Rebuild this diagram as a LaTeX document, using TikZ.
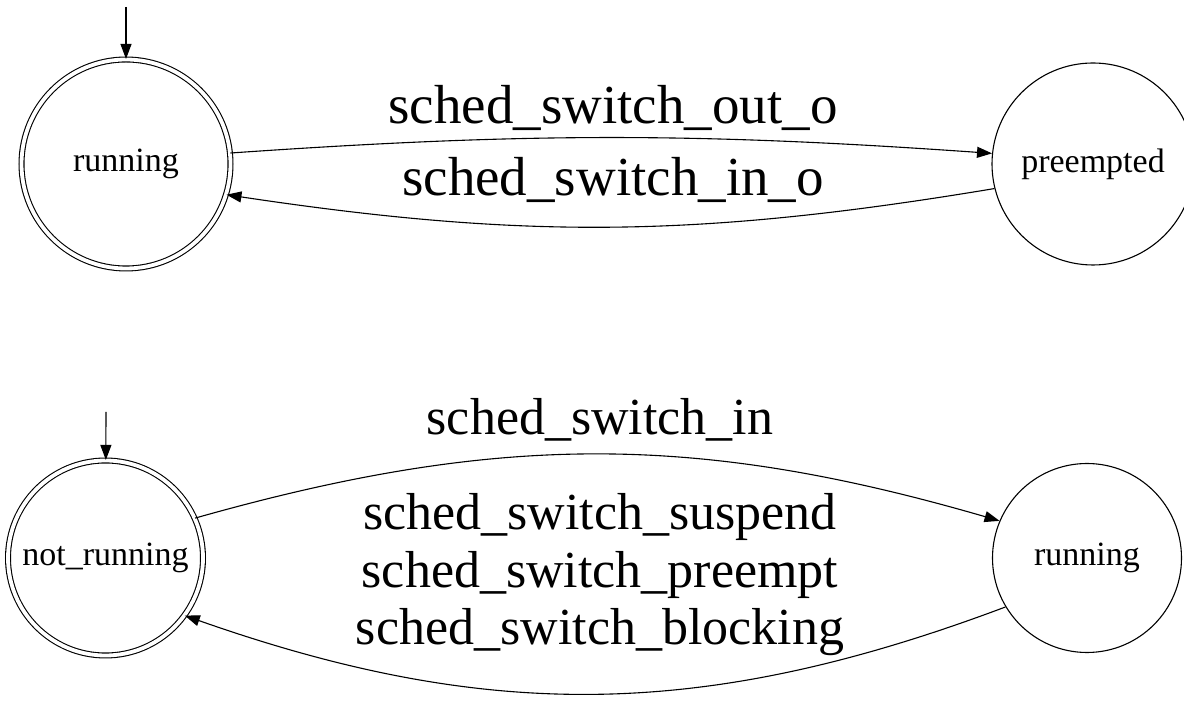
\documentclass[tikz,border=0pt]{standalone}
\usepackage{fontspec}
\setmainfont{Liberation Serif}
\usetikzlibrary{arrows.meta}
\begin{document}
\begin{tikzpicture}[x=1pt,y=1pt,line width=1.1pt,
	state/.style={draw,circle,inner sep=0pt,font=\fontsize{34}{40}\selectfont},
	accepting/.style={state,double,double distance=3.8pt},
	biglabel/.style={font=\fontsize{55}{60}\selectfont},
	evlabel/.style={font=\fontsize{52}{57.5}\selectfont,align=center},
	>={Triangle[length=15pt,width=11pt]}]
	\useasboundingbox (0,0) rectangle (1184,712);
	% top automaton
	\node [accepting,minimum size=209pt] (run) at (126,548) {running};
	\node [state,minimum size=202pt] (pre) at (1093,548) {preempted};
	\coordinate (init1) at (126,705);
	\draw [->] (init1) -- (run);
	\draw [->] (run.6) to[bend left=4] (pre.174);
	\draw [->] (pre.194) to[bend left=9] (run.343);
	\node [biglabel] (outo) at (613,604) {sched\_switch\_out\_o};
	\node [biglabel] (ino) at (613,532) {sched\_switch\_in\_o};
	% bottom automaton
	\node [accepting,minimum size=195pt] (notrun) at (105.5,154) {not\_running};
	\node [state,minimum size=189pt] (run2) at (1087,154) {running};
	\coordinate (init2) at (106,300);
	\draw [->] (init2) -- (notrun);
	\draw [->] (notrun.24) to[bend left=16] (run2.157);
	\draw [->] (run2.211) to[bend left=20] (notrun.324);
	\node [evlabel] (swin) at (600,292) {sched\_switch\_in};
	\node [evlabel] (swout) at (600,137) {sched\_switch\_suspend\\sched\_switch\_preempt\\sched\_switch\_blocking};
\end{tikzpicture}
\end{document}
